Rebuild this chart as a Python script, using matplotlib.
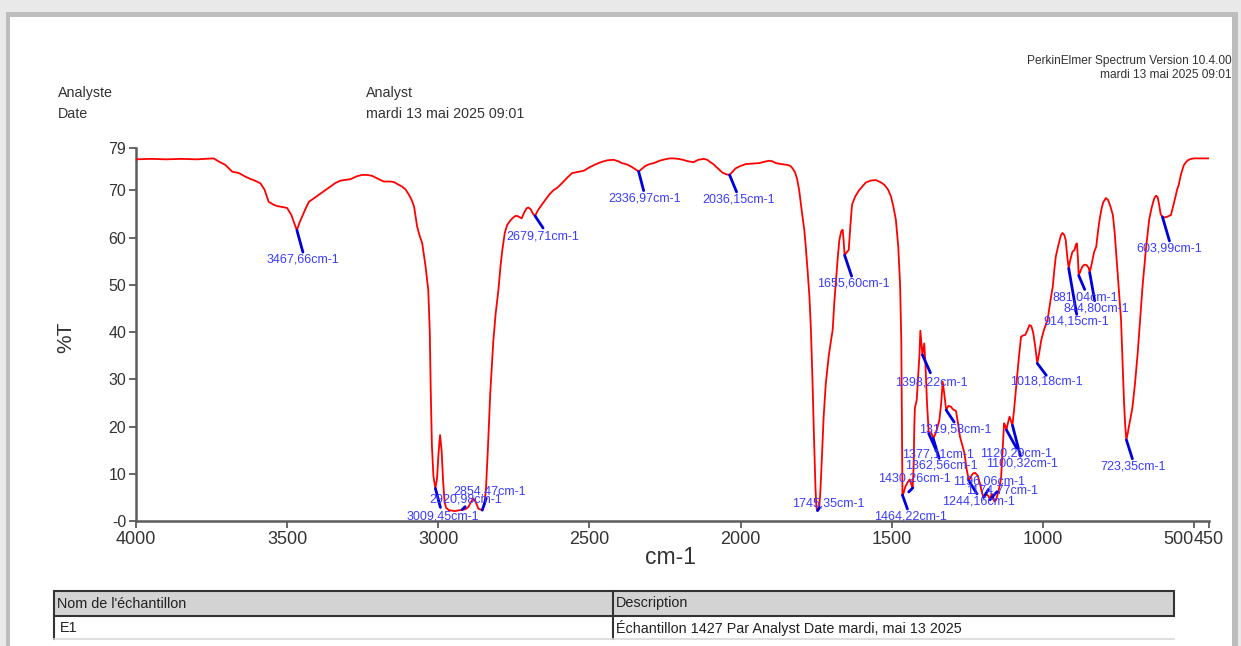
import numpy as np
import matplotlib.pyplot as plt
from matplotlib.patches import Rectangle
from matplotlib.lines import Line2D

plt.rcParams['font.family'] = ['Liberation Sans', 'DejaVu Sans']

W, H = 1241, 646

# IR spectrum: wavenumber (cm-1) and %T
wavenumber = [
    4000, 3950, 3900, 3850, 3800, 3770, 3743, 3725, 3704, 3690, 3682, 3660, 3640, 3627,
    3600, 3588, 3575, 3561, 3545, 3533, 3515, 3500, 3486, 3476, 3467.66, 3459, 3450, 3440,
    3428, 3410, 3395, 3375, 3357, 3340, 3323, 3290, 3270, 3252, 3235, 3219, 3200, 3180,
    3160, 3147, 3130, 3119, 3108, 3097, 3088, 3080, 3070, 3062, 3053, 3042, 3033, 3028,
    3025, 3021, 3016, 3009.45, 3004, 2999, 2994, 2989, 2984, 2979, 2974, 2965, 2945, 2930,
    2920.98, 2910, 2900, 2892, 2884, 2876, 2867, 2854.47, 2847, 2842, 2836, 2828, 2818, 2810,
    2801, 2794, 2788, 2780, 2772, 2762, 2755, 2745, 2738, 2730, 2724, 2716, 2708, 2702,
    2694, 2686, 2679.71, 2672, 2665, 2655, 2646, 2632, 2618, 2608, 2596, 2575, 2557, 2540,
    2518, 2500, 2484, 2470, 2457, 2440, 2420, 2405, 2392, 2375, 2360, 2348, 2336.97, 2326,
    2315, 2300, 2287, 2268, 2250, 2235, 2221, 2205, 2190, 2175, 2155, 2140, 2122, 2110,
    2100, 2090, 2082, 2070, 2060, 2046, 2036.15, 2026, 2016, 2000, 1982, 1960, 1938, 1920,
    1905, 1895, 1883, 1865, 1844, 1835, 1828, 1820, 1813, 1806, 1800, 1795, 1789, 1784,
    1778, 1772, 1767, 1762, 1757, 1752, 1749, 1745.35, 1740, 1736, 1731, 1725, 1718, 1708,
    1700, 1695, 1690, 1684, 1678, 1673, 1667, 1662, 1659, 1655.60, 1650, 1642, 1636, 1631,
    1620, 1607, 1595, 1585, 1570, 1552, 1538, 1524, 1512, 1502, 1494, 1486, 1478, 1472,
    1468, 1466, 1464.22, 1460, 1455, 1447, 1440, 1435, 1430.26, 1427, 1425, 1423, 1417, 1413,
    1408, 1405, 1402, 1398.22, 1395, 1392, 1388, 1383, 1377.11, 1372, 1368, 1362.56, 1356, 1350,
    1342, 1336, 1331, 1326, 1319.58, 1312, 1304, 1296, 1287, 1280, 1274, 1266, 1259, 1252,
    1244.16, 1238, 1230, 1224, 1215, 1208, 1202, 1196.06, 1190, 1185, 1180, 1174.77, 1169, 1164,
    1160, 1155, 1150, 1144, 1138, 1133, 1128, 1124, 1120.29, 1115, 1110, 1105, 1100.32, 1095,
    1090, 1085, 1080, 1072, 1065, 1058, 1050, 1044, 1038, 1032, 1025, 1018.18, 1012, 1005,
    996, 984, 975, 967, 962, 957, 948, 940, 935, 929, 924, 919, 914.15, 910,
    902, 895, 890, 887, 884, 881.04, 876, 869, 862, 855, 848, 844.80, 838, 830,
    823, 818, 812, 806, 800, 791, 784, 776, 768, 762, 757, 750, 741, 736,
    731, 727, 723.35, 719, 715, 709, 703, 695, 686, 678, 670, 664, 659, 653,
    648, 641, 635, 630, 625, 620, 615, 610, 603.99, 596, 590, 583, 576, 568,
    560, 555, 550, 545, 540, 533, 526, 520, 510, 500, 490, 470, 450,
]
transmittance = [
    76.6, 76.7, 76.6, 76.7, 76.6, 76.7, 76.8, 76.1, 75.4, 74.5, 74.0, 73.7, 73.0, 72.6,
    71.9, 71.5, 70.2, 67.6, 67.0, 66.7, 66.5, 66.3, 64.8, 63.0, 61.6, 63.2, 64.5, 66.0,
    67.6, 68.4, 69.1, 70.0, 70.8, 71.6, 72.1, 72.4, 73.0, 73.3, 73.3, 73.1, 72.5, 71.9,
    71.9, 71.8, 71.2, 70.8, 70.2, 69.1, 68.0, 66.6, 62.4, 60.5, 58.8, 53.9, 48.9, 40.0,
    28.0, 16.0, 9.5, 6.9, 9.0, 14.5, 18.2, 15.0, 8.5, 4.0, 2.8, 2.3, 2.1, 2.3,
    2.4, 2.5, 3.0, 4.0, 4.8, 4.0, 2.6, 2.3, 3.5, 7.0, 15.0, 27.0, 38.0, 44.0,
    48.9, 54.0, 57.4, 61.0, 62.7, 63.6, 64.1, 64.6, 64.6, 64.3, 64.1, 65.3, 66.2, 66.4,
    66.0, 65.0, 64.6, 65.6, 66.3, 67.2, 68.0, 69.2, 70.1, 70.5, 71.2, 72.6, 73.7, 73.9,
    74.2, 74.9, 75.4, 75.8, 76.1, 76.4, 76.5, 76.2, 75.8, 75.5, 75.0, 74.5, 74.0, 74.6,
    75.2, 75.6, 75.8, 76.3, 76.6, 76.8, 76.8, 76.7, 76.5, 76.2, 76.0, 76.5, 76.7, 76.5,
    76.0, 75.6, 75.1, 74.4, 73.8, 73.4, 73.3, 74.0, 74.7, 75.2, 75.6, 75.7, 75.8, 76.1,
    76.3, 76.2, 75.8, 75.6, 75.4, 75.2, 74.7, 73.9, 72.5, 70.1, 67.0, 64.5, 61.7, 58.0,
    53.0, 47.5, 40.5, 30.0, 18.0, 7.0, 3.0, 2.2, 2.5, 6.0, 13.0, 22.0, 29.0, 35.0,
    38.5, 40.5, 46.0, 51.0, 56.0, 59.5, 61.3, 61.7, 59.5, 56.3, 56.8, 57.4, 63.0, 67.0,
    68.8, 70.1, 71.0, 71.7, 72.1, 72.2, 71.8, 71.2, 70.2, 68.7, 66.5, 63.8, 58.0, 50.0,
    38.0, 22.0, 5.5, 6.0, 7.2, 8.2, 8.8, 7.8, 7.0, 12.0, 20.0, 24.0, 25.6, 30.0,
    35.0, 40.3, 38.0, 35.2, 36.5, 37.6, 33.0, 25.0, 18.5, 18.8, 18.6, 17.5, 18.3, 19.5,
    21.4, 25.0, 29.5, 27.0, 23.5, 24.4, 24.2, 23.6, 23.3, 20.5, 17.9, 16.0, 14.3, 11.0,
    8.5, 9.4, 10.1, 10.2, 9.6, 8.0, 6.2, 5.0, 5.4, 5.6, 5.3, 4.5, 5.8, 5.0,
    4.1, 4.4, 5.5, 7.0, 9.0, 15.0, 20.7, 20.2, 19.3, 20.8, 22.1, 21.2, 20.3, 23.5,
    27.0, 30.5, 34.0, 39.0, 39.3, 39.4, 40.5, 41.5, 41.3, 40.0, 37.0, 33.4, 35.5, 38.3,
    40.5, 42.6, 46.5, 49.6, 53.0, 56.0, 58.5, 60.5, 61.0, 60.6, 59.5, 56.0, 53.5, 55.0,
    57.0, 57.4, 58.6, 58.8, 56.0, 52.0, 52.8, 53.9, 54.3, 54.2, 53.6, 52.6, 54.5, 57.0,
    58.1, 61.0, 63.8, 66.0, 67.5, 68.4, 68.0, 66.6, 64.8, 61.0, 56.7, 50.5, 42.6, 33.5,
    24.9, 20.0, 17.2, 18.5, 20.0, 22.0, 24.2, 29.0, 35.5, 42.5, 49.6, 54.0, 57.4, 61.0,
    63.8, 66.0, 67.5, 68.5, 68.9, 68.6, 67.0, 65.0, 64.4, 64.3, 64.4, 64.6, 64.8, 66.8,
    69.0, 70.3, 71.2, 72.8, 74.0, 75.4, 76.0, 76.4, 76.7, 76.8, 76.8, 76.8, 76.8,
]

# labelled peaks (cm-1)
peak_wn = [3467.66, 3009.45, 2920.98, 2854.47, 2679.71, 2336.97, 2036.15, 1745.35,
           1655.60, 1464.22, 1430.26, 1398.22, 1377.11, 1362.56, 1319.58, 1244.16,
           1196.06, 1174.77, 1120.29, 1100.32, 1018.18, 914.15, 881.04, 844.80,
           723.35, 603.99]

x_ticks = [4000, 3500, 3000, 2500, 2000, 1500, 1000, 500, 450]
y_ticks = [0, 10, 20, 30, 40, 50, 60, 70, 79]
y_tick_labels = ['-0', '10', '20', '30', '40', '50', '60', '70', '79']

table_header = ["Nom de l'échantillon", "Description"]
table_row = ["E1", "Échantillon 1427 Par Analyst Date mardi, mai 13 2025"]

# layout: marker end and label centre, in pixels from the peak point
marker_off = [(6, -22), (5, -19), (3, 3), (4, 12), (8, -12), (5, -19), (7, -17), (2, 3),
              (7, -21), (5, -14), (-4, -4), (8, -18), (8, -18), (6, -20), (8, -12), (8, -13),
              (5, 8), (7, 8), (10, -18), (8, -31), (9, -12), (8, -46), (6, -14), (5, -28),
              (6, -19), (7, -24)]
label_off = [(6, -29), (7, -28), (4, 10), (7, 19), (8, -21), (6, -27), (9, -25), (11, 7),
             (9, -28), (8, -21), (2, 9), (9, -28), (9, -21), (8, -27), (9, -19), (10, -21),
             (6, 16), (12, 9), (10, -24), (10, -38), (9, -18), (8, -53), (7, -22), (7, -36),
             (7, -27), (7, -32)]


def fx(px):
    return px / W


def fy(py):
    return 1 - py / H


fig = plt.figure(figsize=(W / 100, H / 100), dpi=100)
fig.patch.set_facecolor('#d4d4d4')

# page with its drop shadow
fig.add_artist(Rectangle((0, 0), 1, 1, transform=fig.transFigure,
                         facecolor='#e9e9e9', edgecolor='none', zorder=-20))
fig.add_artist(Rectangle((fx(6), 0), fx(1232), fy(12), transform=fig.transFigure,
                         facecolor='#bdbdbd', edgecolor='none', zorder=-19))
fig.add_artist(Rectangle((fx(10), 0), fx(1222), fy(17), transform=fig.transFigure,
                         facecolor='white', edgecolor='none', zorder=-18))

ax = fig.add_axes([fx(136), fy(521), fx(1209 - 136), (521 - 148) / H])
ax.set_facecolor('none')
ax.plot(wavenumber, transmittance, color='red', lw=1.3, zorder=3)

peak_T = np.interp(peak_wn, wavenumber[::-1], transmittance[::-1])
for wn, t, (mdx, mdy), (ldx, ldy) in zip(peak_wn, peak_T, marker_off, label_off):
    ax.annotate('', xy=(wn, t), xytext=(mdx, mdy), textcoords='offset pixels',
                arrowprops=dict(arrowstyle='-', color='#0000dd', lw=2,
                                shrinkA=0, shrinkB=0), zorder=4)
    ax.annotate(f"{wn:.2f}".replace('.', ',') + "cm-1", xy=(wn, t),
                xytext=(ldx, ldy), textcoords='offset pixels', ha='center',
                va='center', fontsize=9, color='#3b3bff', zorder=5)

ax.set_xlim(4000, 450)
ax.set_ylim(0, 79)
ax.set_xticks(x_ticks)
ax.set_xticklabels([str(v) for v in x_ticks])
ax.set_yticks(y_ticks)
ax.set_yticklabels(y_tick_labels)
for s in ['top', 'right']:
    ax.spines[s].set_visible(False)
for s in ['left', 'bottom']:
    ax.spines[s].set_color('#5c5c5c')
    ax.spines[s].set_linewidth(1.8)
ax.tick_params(axis='both', direction='out', length=5, width=1.3, color='#5c5c5c',
               labelcolor='#333333', pad=2)
ax.tick_params(axis='x', labelsize=13)
ax.tick_params(axis='y', labelsize=11.5)
# "500" ends where "450" begins, as on the printout
ax.get_xticklabels()[-2].set_horizontalalignment('right')
ax.get_xticklabels()[-1].set_horizontalalignment('center')

fig.text(fx(670), fy(557), 'cm-1', fontsize=16.5, color='#333333', ha='center', va='center')
fig.text(fx(66), fy(337), '%T', fontsize=15, color='#333333', ha='center', va='center',
         rotation=90)

# header
hdr = dict(fontsize=10.3, color='#333333', va='center')
fig.text(fx(58), fy(93), 'Analyste', **hdr)
fig.text(fx(58), fy(114), 'Date', **hdr)
fig.text(fx(366), fy(93), 'Analyst', **hdr)
fig.text(fx(366), fy(114), 'mardi 13 mai 2025 09:01', **hdr)
fig.text(fx(1232), fy(61), 'PerkinElmer Spectrum Version 10.4.00', fontsize=8.6,
         color='#333333', ha='right', va='center')
fig.text(fx(1232), fy(75), 'mardi 13 mai 2025 09:01', fontsize=8.6,
         color='#333333', ha='right', va='center')

# sample table
x0, x1, x2 = 54, 613, 1174
y0, y1, y2 = 591, 616, 639
fig.add_artist(Rectangle((fx(x0), fy(y1)), fx(x2 - x0), (y1 - y0) / H,
                         transform=fig.transFigure, facecolor='#d3d3d3',
                         edgecolor='#333333', lw=1.5))
fig.add_artist(Line2D([fx(x1), fx(x1)], [fy(y0), fy(y1)], transform=fig.transFigure,
                      color='#333333', lw=1.5))
for xv in [x0, x1]:
    fig.add_artist(Line2D([fx(xv), fx(xv)], [fy(y1), fy(y2)], transform=fig.transFigure,
                          color='#333333', lw=1.5))
fig.add_artist(Line2D([fx(x0), fx(x2)], [fy(y2), fy(y2)], transform=fig.transFigure,
                      color='#d8d8d8', lw=1.2))
tbl = dict(fontsize=10.4, color='#222222', va='center')
fig.text(fx(x0 + 3), fy((y0 + y1) / 2), table_header[0], **tbl)
fig.text(fx(x1 + 3), fy((y0 + y1) / 2), table_header[1], **tbl)
fig.text(fx(x0 + 6), fy((y1 + y2) / 2), table_row[0], **tbl)
fig.text(fx(x1 + 3), fy((y1 + y2) / 2), table_row[1], **tbl)

fig.savefig('out.png', dpi=100, facecolor=fig.get_facecolor())
